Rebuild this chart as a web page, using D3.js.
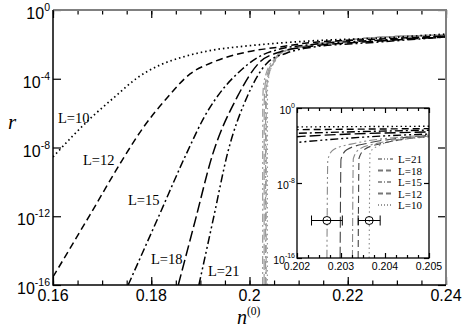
<!DOCTYPE html>
<html>
<head>
<meta charset="utf-8">
<script src="https://cdn.jsdelivr.net/npm/d3@7"></script>
<style>
    body { margin: 0; background: #fff; }
    svg { display: block; }
</style>
</head>
<body>
<svg id="chart" width="463" height="328"></svg>
<script>
/*globals d3*/
// curves r(n) for each L as [n, r]
var SIZES = ["L=10", "L=12", "L=15", "L=18", "L=21"];

var R_L10 = [[0.1600, 2.82e-9], [0.1679, 5.89e-7], [0.1730, 1.12e-5], [0.1771, 1.10e-4],
    [0.1818, 6.31e-4], [0.1865, 1.86e-3], [0.1926, 4.68e-3], [0.1995, 8.13e-3],
    [0.2062, 1.20e-2], [0.2123, 1.58e-2], [0.2266, 2.34e-2], [0.2400, 3.98e-2]];
var R_L12 = [[0.1600, 2.95e-16], [0.1675, 1.17e-12], [0.1741, 1.86e-9], [0.1783, 1.35e-7],
    [0.1832, 7.59e-6], [0.1879, 1.91e-4], [0.1926, 9.33e-4], [0.1995, 3.63e-3],
    [0.2062, 7.08e-3], [0.2117, 1.20e-2], [0.2266, 2.04e-2], [0.2400, 3.09e-2]];
var R_L15 = [[0.1753, 1e-16], [0.1814, 8.3e-13], [0.1875, 7.08e-9], [0.1909, 6.76e-7],
    [0.1946, 2.51e-5], [0.1981, 2.82e-4], [0.2015, 1.62e-3], [0.2062, 5.37e-3],
    [0.2117, 9.12e-3], [0.2266, 1.78e-2], [0.2400, 3.09e-2]];
var R_L18 = [[0.1855, 1e-16], [0.1890, 6.4e-13], [0.1924, 3.24e-9], [0.1975, 8.71e-6],
    [0.2021, 9.33e-4], [0.2062, 3.63e-3], [0.2117, 7.08e-3], [0.2266, 1.58e-2],
    [0.2400, 2.69e-2]];
var R_L21 = [[0.1897, 1e-16], [0.1926, 6.3e-13], [0.1956, 5.50e-9], [0.1995, 8.71e-6],
    [0.2036, 8.32e-4], [0.2076, 3.16e-3], [0.2117, 6.17e-3], [0.2266, 1.38e-2],
    [0.2400, 2.69e-2]];

// grey curves, dropping at n_c(L)
var G_L10 = [[0.20364, 1e-16], [0.20366, 2.0e-5], [0.20389, 1.1e-4], [0.20434, 3.9e-4],
    [0.2050, 8.1e-4], [0.2062, 2.7e-3], [0.2103, 6.6e-3], [0.2170, 1.4e-2],
    [0.2239, 2.3e-2], [0.2400, 3.5e-2]];
var G_L12 = [[0.20339, 1e-16], [0.20341, 4.5e-6], [0.20354, 4.0e-5], [0.20396, 1.8e-4],
    [0.20452, 5.3e-4], [0.2050, 9.2e-4], [0.2062, 2.8e-3], [0.2103, 6.7e-3],
    [0.2170, 1.4e-2], [0.2239, 2.3e-2], [0.2400, 3.5e-2]];
var G_L15 = [[0.20326, 1e-16], [0.20328, 4.0e-6], [0.20341, 3.8e-5], [0.20385, 1.8e-4],
    [0.20445, 5.5e-4], [0.2050, 1.0e-3], [0.2062, 2.9e-3], [0.2103, 6.8e-3],
    [0.2170, 1.4e-2], [0.2239, 2.3e-2], [0.2400, 3.5e-2]];
var G_L18 = [[0.20298, 1e-16], [0.20300, 3.5e-6], [0.20313, 3.5e-5], [0.20362, 1.8e-4],
    [0.20430, 5.9e-4], [0.2050, 1.2e-3], [0.2062, 3.0e-3], [0.2103, 6.9e-3],
    [0.2170, 1.4e-2], [0.2239, 2.3e-2], [0.2400, 3.5e-2]];
var G_L21 = [[0.20268, 1e-16], [0.20270, 3.0e-6], [0.20282, 3.3e-5], [0.20336, 1.9e-4],
    [0.20411, 6.3e-4], [0.2050, 1.3e-3], [0.2062, 3.2e-3], [0.2103, 7.1e-3],
    [0.2170, 1.4e-2], [0.2239, 2.3e-2], [0.2400, 3.5e-2]];

// estimates of n_c with error bars (inset)
var NC_EST = [0.20268, 0.20364];
var NC_ERR = [0.00035, 0.00025];
var NC_R = [1e-12, 1e-12];

var X_TICKS = [0.16, 0.18, 0.2, 0.22, 0.24];
var Y_TICKS = [1, 1e-4, 1e-8, 1e-12, 1e-16];
var INSET_X_TICKS = [0.202, 0.203, 0.204, 0.205];
var INSET_X_MINOR = [0.20225, 0.2025, 0.20275, 0.20325, 0.2035, 0.20375, 0.20425, 0.2045, 0.20475];
var INSET_Y_TICKS = [1, 1e-8, 1e-16];

(function () {
    "use strict";
    var svg = d3.select("#chart"),
        X0 = 53, X1 = 446, Y0 = 10, Y1 = 285,
        IX0 = 297, IX1 = 429, IY0 = 108, IY1 = 258,
        SANS = "'Liberation Sans', Arial, sans-serif",
        SERIF = "'Liberation Serif', 'Times New Roman', serif",
        DASH = ["1.5,3", "7,4", "8,3,2,3", "11,4", "8,3,2,3,2,3"],
        black = [R_L10, R_L12, R_L15, R_L18, R_L21],
        grey = [G_L10, G_L12, G_L15, G_L18, G_L21],
        x = d3.scaleLinear().domain([0.16, 0.24]).range([X0, X1]),
        y = d3.scaleLog().domain([1e-16, 1]).range([Y1, Y0]),
        xi = d3.scaleLinear().domain([0.202, 0.205]).range([IX0, IX1]),
        yi = d3.scaleLog().domain([1e-16, 1]).range([IY1, IY0]),
        defs = svg.append("defs"),

        lineFor = function (xs, ys) {
            return d3.line()
                .x(function (d) { return xs(d[0]); })
                .y(function (d) { return ys(d[1]); })
                .curve(d3.curveMonotoneX);
        },

        // inward ticks, no domain line
        tickAxis = function (axis, tx, ty, size, values) {
            svg.append("g")
                .attr("transform", "translate(" + tx + "," + ty + ")")
                .call(axis.tickValues(values).tickSize(size).tickSizeOuter(0).tickFormat(""))
                .call(function (g) { g.select(".domain").remove(); })
                .selectAll("line").attr("stroke", "#000").attr("stroke-width", 1.2);
        },

        powLabel = function (xpos, ypos, v, big, small, rise) {
            var t = svg.append("text")
                .attr("x", xpos).attr("y", ypos)
                .attr("text-anchor", "end")
                .attr("font-family", SANS)
                .attr("font-size", big);
            t.append("tspan").text("10");
            t.append("tspan").attr("dy", -rise).attr("font-size", small)
                .text(String(Math.round(Math.log10(v))));
        };

    defs.append("clipPath").attr("id", "clipMain").append("rect")
        .attr("x", X0).attr("y", Y0).attr("width", X1 - X0).attr("height", Y1 - Y0);
    defs.append("clipPath").attr("id", "clipInset").append("rect")
        .attr("x", IX0).attr("y", IY0).attr("width", IX1 - IX0).attr("height", IY1 - IY0);

    // main curves
    var main = svg.append("g").attr("clip-path", "url(#clipMain)"),
        mainLine = lineFor(x, y);
    grey.forEach(function (d, i) {
        main.append("path").attr("d", mainLine(d)).attr("fill", "none")
            .attr("stroke", "#9a9a9a").attr("stroke-width", 1.2)
            .attr("stroke-dasharray", DASH[i]);
    });
    black.forEach(function (d, i) {
        main.append("path").attr("d", mainLine(d)).attr("fill", "none")
            .attr("stroke", "#000").attr("stroke-width", i === 0 ? 1.7 : 1.5)
            .attr("stroke-dasharray", DASH[i]);
    });

    // curve labels
    var LABEL_POS = [[58, 123], [83, 165], [128, 205], [151, 264], [208, 276]];
    SIZES.forEach(function (s, i) {
        svg.append("text").attr("x", LABEL_POS[i][0]).attr("y", LABEL_POS[i][1])
            .attr("font-family", SERIF).attr("font-size", 14.5).text(s);
    });

    // main ticks
    tickAxis(d3.axisBottom(x), 0, Y1, -8, X_TICKS);
    tickAxis(d3.axisBottom(x), 0, Y1, -4.5, x.ticks(16));
    tickAxis(d3.axisTop(x), 0, Y0, -8, X_TICKS);
    tickAxis(d3.axisTop(x), 0, Y0, -4.5, x.ticks(16));
    tickAxis(d3.axisLeft(y), X0, 0, -8, Y_TICKS);
    tickAxis(d3.axisRight(y), X1, 0, -8, Y_TICKS);

    // frame
    svg.append("line").attr("x1", X0).attr("x2", X1 + 1).attr("y1", Y0).attr("y2", Y0)
        .attr("stroke", "#808080").attr("stroke-width", 2);
    svg.append("line").attr("x1", X1).attr("x2", X1).attr("y1", Y0).attr("y2", Y1)
        .attr("stroke", "#808080").attr("stroke-width", 2);
    svg.append("line").attr("x1", X0).attr("x2", X0).attr("y1", Y0).attr("y2", Y1 + 0.75)
        .attr("stroke", "#000").attr("stroke-width", 1.5);
    svg.append("line").attr("x1", X0).attr("x2", X1).attr("y1", Y1).attr("y2", Y1)
        .attr("stroke", "#000").attr("stroke-width", 1.5);

    // main tick labels
    X_TICKS.forEach(function (v) {
        svg.append("text").attr("x", x(v)).attr("y", Y1 + 16)
            .attr("text-anchor", "middle").attr("font-family", SANS)
            .attr("font-size", 16).text(String(v));
    });
    Y_TICKS.forEach(function (v) {
        powLabel(50, y(v) + 9, v, 16, 10.5, 8);
    });

    // axis titles
    var xt = svg.append("text").attr("x", 237).attr("y", 324)
        .attr("font-family", SERIF).attr("font-size", 20);
    xt.append("tspan").attr("font-style", "italic").text("n");
    xt.append("tspan").attr("dy", -9).attr("font-size", 11.5).text("(0)");
    svg.append("text").attr("x", 8).attr("y", 129)
        .attr("font-family", SERIF).attr("font-style", "italic")
        .attr("font-size", 21).text("r");

    // inset
    svg.append("rect").attr("x", IX0).attr("y", IY0)
        .attr("width", IX1 - IX0).attr("height", IY1 - IY0).attr("fill", "#fff");
    var ins = svg.append("g").attr("clip-path", "url(#clipInset)"),
        insLine = lineFor(xi, yi);
    black.forEach(function (d, i) {
        ins.append("path").attr("d", insLine(d)).attr("fill", "none")
            .attr("stroke", "#000").attr("stroke-width", 1.4)
            .attr("stroke-dasharray", DASH[i]);
    });
    grey.forEach(function (d, i) {
        ins.append("path").attr("d", insLine(d)).attr("fill", "none")
            .attr("stroke", i === 1 || i === 3 ? "#444" : "#8a8a8a").attr("stroke-width", 1.1)
            .attr("stroke-dasharray", DASH[i]);
    });

    // error bars
    NC_EST.forEach(function (n, i) {
        var cy = yi(NC_R[i]);
        ins.append("line").attr("x1", xi(n - NC_ERR[i])).attr("x2", xi(n + NC_ERR[i]))
            .attr("y1", cy).attr("y2", cy).attr("stroke", "#000").attr("stroke-width", 1);
        [n - NC_ERR[i], n + NC_ERR[i]].forEach(function (e) {
            ins.append("line").attr("x1", xi(e)).attr("x2", xi(e))
                .attr("y1", cy - 5).attr("y2", cy + 5)
                .attr("stroke", "#000").attr("stroke-width", 1);
        });
        ins.append("circle").attr("cx", xi(n)).attr("cy", cy).attr("r", 4)
            .attr("fill", "none").attr("stroke", "#000").attr("stroke-width", 1);
    });

    // inset legend
    var order = [4, 3, 2, 1, 0];
    order.forEach(function (k, j) {
        var ly = 159 + j * 11.5;
        svg.append("line").attr("x1", 378).attr("x2", 393).attr("y1", ly).attr("y2", ly)
            .attr("stroke", k === 1 || k === 3 ? "#777" : "#333")
            .attr("stroke-width", k === 1 || k === 3 ? 2 : 1.1)
            .attr("stroke-dasharray", k === 0 ? "1,2" : (k === 4 ? "4,2,1,2,1,2" : (k === 2 ? "4,2,1,2" : "5,3")));
        svg.append("text").attr("x", 398).attr("y", ly + 4)
            .attr("font-family", SERIF).attr("font-size", 11).text(SIZES[k]);
    });

    // inset ticks and frame
    tickAxis(d3.axisBottom(xi), 0, IY1, -5, INSET_X_TICKS);
    tickAxis(d3.axisBottom(xi), 0, IY1, -3, INSET_X_MINOR);
    tickAxis(d3.axisTop(xi), 0, IY0, -5, INSET_X_TICKS);
    tickAxis(d3.axisTop(xi), 0, IY0, -3, INSET_X_MINOR);
    tickAxis(d3.axisLeft(yi), IX0, 0, -5, INSET_Y_TICKS);
    tickAxis(d3.axisRight(yi), IX1, 0, -5, INSET_Y_TICKS);
    svg.append("rect").attr("x", IX0).attr("y", IY0)
        .attr("width", IX1 - IX0).attr("height", IY1 - IY0)
        .attr("fill", "none").attr("stroke", "#000").attr("stroke-width", 1.3);

    INSET_X_TICKS.forEach(function (v) {
        svg.append("text").attr("x", xi(v)).attr("y", IY1 + 12)
            .attr("text-anchor", "middle").attr("font-family", SANS)
            .attr("font-size", 10.5).text(String(v));
    });
    INSET_Y_TICKS.forEach(function (v) {
        powLabel(295, yi(v) + 6, v, 10.5, 7, 6);
    });
}());
</script>
</body>
</html>
